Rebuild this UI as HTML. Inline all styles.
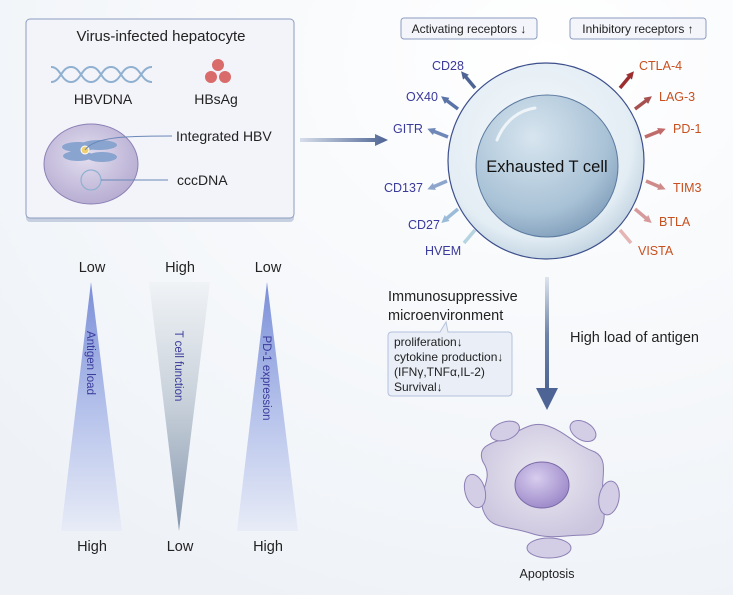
<!DOCTYPE html>
<html><head><meta charset="utf-8"><style>
html,body{margin:0;padding:0;}
body{width:733px;height:595px;overflow:hidden;background:#fff;}
svg text{font-family:"Liberation Sans",Arial,sans-serif;}
</style></head><body>
<svg width="733" height="595" viewBox="0 0 733 595" xmlns="http://www.w3.org/2000/svg">
<defs>
<radialGradient id="bg" cx="0.75" cy="0.1" r="1"><stop offset="0" stop-color="#ffffff"/><stop offset="1" stop-color="#eef2f7"/></radialGradient>
<radialGradient id="cellO" cx="0.45" cy="0.4" r="0.65"><stop offset="0" stop-color="#f4f8fb"/><stop offset="0.75" stop-color="#e3edf4"/><stop offset="1" stop-color="#b9cddc"/></radialGradient>
<radialGradient id="cellN" cx="0.4" cy="0.3" r="0.75"><stop offset="0" stop-color="#d7e5ef"/><stop offset="0.7" stop-color="#a9c2d6"/><stop offset="1" stop-color="#7f9dba"/></radialGradient>
<radialGradient id="nuc" cx="0.45" cy="0.4" r="0.7"><stop offset="0" stop-color="#e3def0"/><stop offset="1" stop-color="#b0a6cd"/></radialGradient>
<radialGradient id="apo" cx="0.5" cy="0.45" r="0.6"><stop offset="0" stop-color="#eceaf2"/><stop offset="1" stop-color="#cbc5de"/></radialGradient>
<radialGradient id="apoN" cx="0.4" cy="0.35" r="0.7"><stop offset="0" stop-color="#d8cdee"/><stop offset="1" stop-color="#9a87c8"/></radialGradient>
<linearGradient id="tri1" x1="0" y1="0" x2="0" y2="1"><stop offset="0" stop-color="#7b8fd8"/><stop offset="0.5" stop-color="#b3c0ea"/><stop offset="1" stop-color="#e8ecf7"/></linearGradient>
<linearGradient id="tri2" x1="0" y1="0" x2="0" y2="1"><stop offset="0" stop-color="#f0f3f6"/><stop offset="0.5" stop-color="#c6cfd9"/><stop offset="1" stop-color="#8596ad"/></linearGradient>
<linearGradient id="varr" x1="0" y1="0" x2="0" y2="1"><stop offset="0" stop-color="#dfe5ee"/><stop offset="0.5" stop-color="#6e83a8"/><stop offset="1" stop-color="#4d6494"/></linearGradient>
<linearGradient id="harr" x1="0" y1="0" x2="1" y2="0"><stop offset="0" stop-color="#d7deea"/><stop offset="1" stop-color="#4d6494"/></linearGradient>
<marker id="m1" viewBox="0 0 10 10" refX="2" refY="5" markerWidth="2.2" markerHeight="2.2" orient="auto"><path d="M0,0 L10,5 L0,10 Z" fill="#4d6494"/></marker>
<marker id="m2" viewBox="0 0 10 10" refX="2" refY="5" markerWidth="2.2" markerHeight="2.2" orient="auto"><path d="M0,0 L10,5 L0,10 Z" fill="#5a74a8"/></marker>
<marker id="m3" viewBox="0 0 10 10" refX="2" refY="5" markerWidth="2.2" markerHeight="2.2" orient="auto"><path d="M0,0 L10,5 L0,10 Z" fill="#6f88b8"/></marker>
<marker id="m4" viewBox="0 0 10 10" refX="2" refY="5" markerWidth="2.2" markerHeight="2.2" orient="auto"><path d="M0,0 L10,5 L0,10 Z" fill="#8ea5cc"/></marker>
<marker id="m5" viewBox="0 0 10 10" refX="2" refY="5" markerWidth="2.2" markerHeight="2.2" orient="auto"><path d="M0,0 L10,5 L0,10 Z" fill="#9bbcd8"/></marker>
<marker id="n1" viewBox="0 0 10 10" refX="2" refY="5" markerWidth="2.2" markerHeight="2.2" orient="auto"><path d="M0,0 L10,5 L0,10 Z" fill="#9b2f2f"/></marker>
<marker id="n2" viewBox="0 0 10 10" refX="2" refY="5" markerWidth="2.2" markerHeight="2.2" orient="auto"><path d="M0,0 L10,5 L0,10 Z" fill="#a65050"/></marker>
<marker id="n3" viewBox="0 0 10 10" refX="2" refY="5" markerWidth="2.2" markerHeight="2.2" orient="auto"><path d="M0,0 L10,5 L0,10 Z" fill="#c06a6a"/></marker>
<marker id="n4" viewBox="0 0 10 10" refX="2" refY="5" markerWidth="2.2" markerHeight="2.2" orient="auto"><path d="M0,0 L10,5 L0,10 Z" fill="#cf8a8a"/></marker>
<marker id="n5" viewBox="0 0 10 10" refX="2" refY="5" markerWidth="2.2" markerHeight="2.2" orient="auto"><path d="M0,0 L10,5 L0,10 Z" fill="#d79a9a"/></marker>
</defs>
<rect width="733" height="595" fill="url(#bg)"/>

<rect x="26" y="21" width="268" height="201" rx="4" fill="#c7d0e0"/>
<rect x="26" y="19" width="268" height="199" rx="4" fill="#f3f4f9" stroke="#8b9cc0" stroke-width="1"/>
<text x="161" y="41" font-size="15" text-anchor="middle" fill="#222">Virus-infected hepatocyte</text>
<path d="M51,67 C61,67 61,82 71,82 C81,82 81,67 91,67 C101,67 101,82 111,82 C121,82 121,67 131,67 C141,67 141,82 152,82" fill="none" stroke="#8fb0d0" stroke-width="2"/>
<path d="M51,82 C61,82 61,67 71,67 C81,67 81,82 91,82 C101,82 101,67 111,67 C121,67 121,82 131,82 C141,82 141,67 152,67" fill="none" stroke="#8fb0d0" stroke-width="2"/>
<text x="103" y="104" font-size="14" text-anchor="middle" fill="#222">HBVDNA</text>
<circle cx="218" cy="65" r="6" fill="#d96b6b"/><circle cx="211" cy="77" r="6" fill="#d96b6b"/><circle cx="225" cy="77" r="6" fill="#d96b6b"/>
<text x="216" y="104" font-size="14" text-anchor="middle" fill="#222">HBsAg</text>
<ellipse cx="91" cy="164" rx="47" ry="40" fill="url(#nuc)" stroke="#8d80b5" stroke-width="1"/>
<ellipse cx="78" cy="147" rx="16" ry="5" fill="#88a4cf"/><ellipse cx="99" cy="145" rx="18" ry="5" fill="#88a4cf"/>
<ellipse cx="78" cy="156" rx="15" ry="5" fill="#88a4cf"/><ellipse cx="102" cy="157" rx="15" ry="5" fill="#88a4cf"/>
<circle cx="85" cy="150" r="4" fill="#f0d070" stroke="#fff" stroke-width="1"/>
<path d="M85,150 C95,136 130,136 172,136" fill="none" stroke="#6a88b8" stroke-width="1"/>
<text x="176" y="141" font-size="14" fill="#222">Integrated HBV</text>
<circle cx="91" cy="180" r="10" fill="none" stroke="#8fb0d0" stroke-width="1.2"/>
<line x1="101" y1="180" x2="168" y2="180" stroke="#6a88b8" stroke-width="1"/>
<text x="177" y="185" font-size="14" fill="#222">cccDNA</text>

<path d="M300,138 L375,138 L375,134 L388,140 L375,146 L375,142 L300,142 Z" fill="url(#harr)"/>

<rect x="401" y="18" width="136" height="21" rx="3" fill="#f3f5fa" stroke="#8b9cc0"/>
<text x="469" y="33" font-size="12" text-anchor="middle" fill="#222">Activating receptors ↓</text>
<rect x="570" y="18" width="136" height="21" rx="3" fill="#f3f5fa" stroke="#8b9cc0"/>
<text x="638" y="33" font-size="12" text-anchor="middle" fill="#222">Inhibitory receptors ↑</text>

<g stroke-width="3.5" fill="none">
<line x1="475" y1="88" x2="465" y2="76" stroke="#4d6494" marker-end="url(#m1)"/>
<line x1="458" y1="109" x2="446" y2="100" stroke="#5a74a8" marker-end="url(#m2)"/>
<line x1="448" y1="137" x2="433" y2="131" stroke="#6f88b8" marker-end="url(#m3)"/>
<line x1="447" y1="181" x2="433" y2="187" stroke="#8ea5cc" marker-end="url(#m4)"/>
<line x1="458" y1="209" x2="446" y2="219" stroke="#9bbcd8" marker-end="url(#m5)"/>
<line x1="475" y1="230" x2="464" y2="243" stroke="#b5d3e0"/>
<line x1="620" y1="88" x2="630" y2="76" stroke="#9b2f2f" marker-end="url(#n1)"/>
<line x1="635" y1="109" x2="647" y2="100" stroke="#a65050" marker-end="url(#n2)"/>
<line x1="645" y1="137" x2="660" y2="131" stroke="#c06a6a" marker-end="url(#n3)"/>
<line x1="646" y1="181" x2="660" y2="187" stroke="#cf8a8a" marker-end="url(#n4)"/>
<line x1="635" y1="209" x2="647" y2="219" stroke="#d79a9a" marker-end="url(#n5)"/>
<line x1="620" y1="230" x2="631" y2="243" stroke="#e5b5b5"/>
</g>
<g font-size="12.5">
<text x="432" y="70" fill="#3a3a9a">CD28</text>
<text x="406" y="101" fill="#3a3a9a">OX40</text>
<text x="393" y="133" fill="#3a3a9a">GITR</text>
<text x="384" y="192" fill="#3a3a9a">CD137</text>
<text x="408" y="229" fill="#3a3a9a">CD27</text>
<text x="425" y="255" fill="#3a3a9a">HVEM</text>
<text x="639" y="70" fill="#c8501e">CTLA-4</text>
<text x="659" y="101" fill="#c8501e">LAG-3</text>
<text x="673" y="133" fill="#c8501e">PD-1</text>
<text x="673" y="192" fill="#c8501e">TIM3</text>
<text x="659" y="226" fill="#c8501e">BTLA</text>
<text x="638" y="255" fill="#c8501e">VISTA</text>
</g>

<circle cx="546" cy="161" r="98" fill="url(#cellO)" stroke="#3d4f8c" stroke-width="1.2"/>
<circle cx="547" cy="166" r="71" fill="url(#cellN)" stroke="#5c7aa0" stroke-width="1"/>
<path d="M497,140 C505,120 520,110 535,108" fill="none" stroke="#eef4f8" stroke-width="3" stroke-linecap="round"/>
<text x="547" y="172" font-size="16.5" text-anchor="middle" fill="#111">Exhausted T cell</text>

<rect x="545" y="277" width="4" height="115" fill="url(#varr)"/>
<path d="M536,388 L558,388 L547,410 Z" fill="#4d6494"/>
<text x="570" y="342" font-size="14.5" fill="#222">High load of antigen</text>

<text x="388" y="301" font-size="14.5" fill="#222">Immunosuppressive</text>
<text x="388" y="320" font-size="14.5" fill="#222">microenvironment</text>
<path d="M392,332 L440,332 L446,322 L448,332 L508,332 Q512,332 512,336 L512,392 Q512,396 508,396 L392,396 Q388,396 388,392 L388,336 Q388,332 392,332 Z" fill="#e9eef7" stroke="#b5c2dc"/>
<g font-size="12" fill="#222">
<text x="394" y="346">proliferation↓</text>
<text x="394" y="361">cytokine production↓</text>
<text x="394" y="376">(IFNγ,TNFα,IL-2)</text>
<text x="394" y="391">Survival↓</text>
</g>

<path d="M500,440 C520,432 530,420 548,426 C566,432 575,445 595,452 C610,460 600,480 603,500 C606,520 605,535 585,535 C565,535 550,540 530,533 C505,525 490,530 483,510 C477,490 495,480 483,462 C477,448 488,444 500,440 Z" fill="url(#apo)" stroke="#8d80b5" stroke-width="1"/>
<ellipse cx="542" cy="485" rx="27" ry="23" fill="url(#apoN)" stroke="#7a6aa8"/>
<ellipse cx="505" cy="431" rx="15" ry="9" transform="rotate(-20 505 431)" fill="#d3cde6" stroke="#8d80b5"/>
<ellipse cx="583" cy="431" rx="14" ry="9" transform="rotate(30 583 431)" fill="#d3cde6" stroke="#8d80b5"/>
<ellipse cx="475" cy="491" rx="10" ry="17" transform="rotate(-15 475 491)" fill="#d3cde6" stroke="#8d80b5"/>
<ellipse cx="609" cy="498" rx="10" ry="17" transform="rotate(10 609 498)" fill="#d3cde6" stroke="#8d80b5"/>
<ellipse cx="549" cy="548" rx="22" ry="10" fill="#d3cde6" stroke="#8d80b5"/>
<text x="547" y="578" font-size="12.5" text-anchor="middle" fill="#222">Apoptosis</text>

<path d="M91,282 L122,531 L61,531 Z" fill="url(#tri1)"/>
<path d="M149,282 L210,282 L179,531 Z" fill="url(#tri2)"/>
<path d="M267,282 L298,531 L237,531 Z" fill="url(#tri1)"/>
<text transform="translate(87,363) rotate(90)" font-size="11.5" fill="#3a3a9a" text-anchor="middle">Antigen load</text>
<text transform="translate(175,366) rotate(90)" font-size="11.5" fill="#3a3a9a" text-anchor="middle">T cell function</text>
<text transform="translate(263,378) rotate(90)" font-size="11.5" fill="#3a3a9a" text-anchor="middle">PD-1 expression</text>
<g font-size="14.5" fill="#222" text-anchor="middle">
<text x="92" y="272">Low</text><text x="180" y="272">High</text><text x="268" y="272">Low</text>
<text x="92" y="551">High</text><text x="180" y="551">Low</text><text x="268" y="551">High</text>
</g>
</svg>
</body></html>
